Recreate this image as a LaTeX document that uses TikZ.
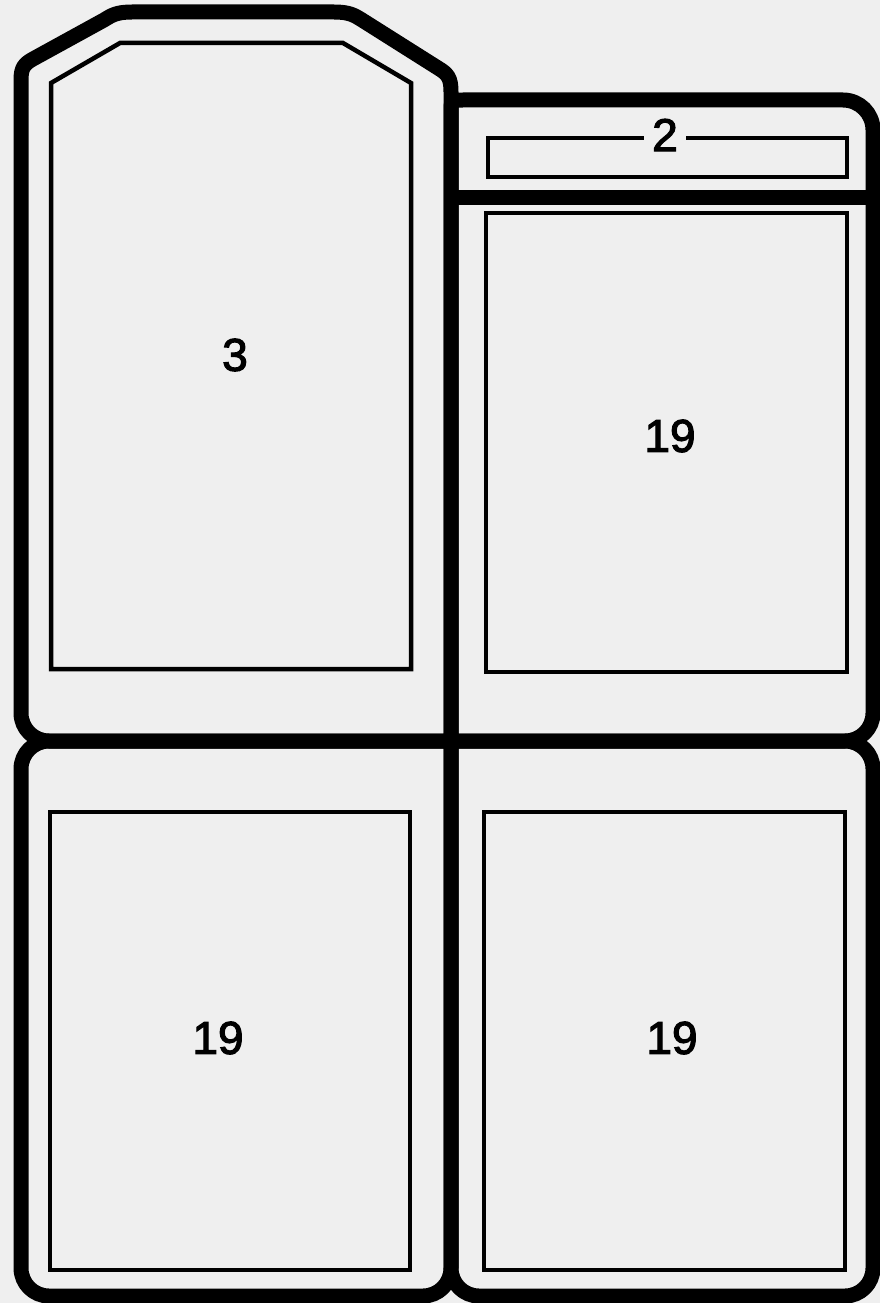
\documentclass[tikz,border=0pt]{standalone}
\usepackage{fontspec}
\setmainfont{Liberation Sans}
\newfontfamily\numfont[FakeBold=2.5]{Liberation Sans}
\definecolor{paper}{RGB}{239,239,239}
\begin{document}
\begin{tikzpicture}[x=1pt,y=-1pt,
  outerline/.style={line width=15pt,line join=round,draw=black},
  innerline/.style={line width=4.5pt,line join=miter,draw=black},
  num/.style={font=\numfont\fontsize{46}{50}\selectfont,inner sep=0pt,text=black}]
\fill[paper] (0,0) rectangle (880,1303);
\useasboundingbox (0,0) rectangle (880,1303);
% top-left card (3)
\draw[outerline] (200,741) -- (49,741) .. controls (33.5,741) and (21,728.5) .. (21,713)
  -- (21,80) .. controls (21,68) and (24,64) .. (33,59) -- (104,20) .. controls (112,15) and (117,12) .. (132,12)
  -- (334,12) .. controls (349,12) and (354,15) .. (362,20) -- (438,68) .. controls (448,74) and (451,78) .. (451,92)
  -- (451,741) -- cycle;
\draw[innerline] (51,669) -- (51,83) -- (120,43) -- (343,43) -- (411,83) -- (411,669) -- cycle;
% top-right card
\draw[outerline] (451,741) -- (451,112) .. controls (451,100) .. (463,100)
  -- (843,100) .. controls (859.6,100) and (873,113.4) .. (873,130)
  -- (873,713) .. controls (873,728.5) and (860.5,741) .. (845,741)
  -- cycle;
\draw[outerline] (451,197) -- (873,197);
\draw[innerline] (488,138) rectangle (847,177);
\draw[innerline] (486,213) rectangle (847,672);
% bottom-left card
\draw[outerline] (451,741) -- (451,1268) .. controls (451,1283.5) and (438.5,1296) .. (423,1296)
  -- (49,1296) .. controls (33.5,1296) and (21,1283.5) .. (21,1268)
  -- (21,769) .. controls (21,753.5) and (33.5,741) .. (49,741)
  -- cycle;
\draw[innerline] (50,812) rectangle (410,1270);
% bottom-right card
\draw[outerline] (451,741) -- (845,741) .. controls (860.5,741) and (873,753.5) .. (873,769)
  -- (873,1268) .. controls (873,1283.5) and (860.5,1296) .. (845,1296)
  -- (479,1296) .. controls (463.5,1296) and (451,1283.5) .. (451,1268)
  -- cycle;
\draw[innerline] (484,812) rectangle (845,1270);
% labels
\node[num] (n3) at (235,355) {3};
\node[num] (n2) at (665,135) [fill=paper,inner xsep=8pt,inner ysep=0pt] {2};
\node[num] (n19a) at (670,436) {19};
\node[num] (n19b) at (218,1038) {19};
\node[num] (n19c) at (672,1038) {19};
\end{tikzpicture}
\end{document}
